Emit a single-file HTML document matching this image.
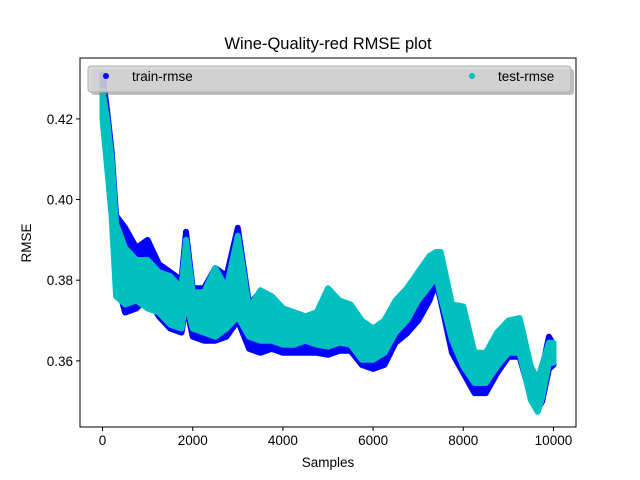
<!DOCTYPE html>
<html><head><meta charset="utf-8"><style>
body{margin:0;background:#fff}
svg{display:block;font-family:"Liberation Sans","DejaVu Sans",sans-serif}
</style></head><body>
<svg id="chart" width="640" height="480">
<rect width="640" height="480" fill="#fff"/>
<text x="328" y="49" text-anchor="middle" font-size="16.5">Wine-Quality-red RMSE plot</text>
<g id="plot"></g>
<g id="axes"></g>
<g>
<rect x="91" y="69" width="483" height="26" rx="3" fill="#7f7f7f" opacity="0.5"/>
<rect x="88" y="66" width="483" height="26" rx="3" fill="#d3d3d3" fill-opacity="0.85" stroke="#b0b0b0" stroke-width="1"/>
<circle cx="106" cy="76" r="3" fill="#0000ff"/>
<text x="132" y="81" font-size="13.5">train-rmse</text>
<circle cx="472" cy="76" r="3" fill="#00bfbf"/>
<text x="498" y="81" font-size="13.5">test-rmse</text>
</g>
</svg>
<script>
const samples = [0,100,200,300,500,750,1000,1250,1500,1750,1850,2000,2250,2500,2750,3000,3250,3500,3750,4000,4250,4500,4750,5000,5250,5500,5750,6000,6250,6500,6750,7000,7250,7400,7500,7750,8000,8250,8500,8750,9000,9250,9500,9650,9750,9900,10000];
const trainHi = [0.431,0.422,0.412,0.396,0.393,0.388,0.390,0.384,0.382,0.380,0.392,0.378,0.378,0.383,0.381,0.393,0.374,0.377,0.376,0.373,0.372,0.371,0.372,0.377,0.374,0.373,0.369,0.367,0.369,0.373,0.376,0.380,0.383,0.384,0.384,0.373,0.372,0.361,0.361,0.366,0.369,0.369,0.358,0.354,0.358,0.366,0.364];
const trainLo = [0.424,0.410,0.398,0.380,0.372,0.373,0.376,0.371,0.368,0.367,0.374,0.366,0.365,0.365,0.366,0.370,0.363,0.362,0.363,0.362,0.362,0.362,0.362,0.3615,0.3625,0.3625,0.359,0.358,0.359,0.3645,0.3668,0.370,0.375,0.3795,0.375,0.362,0.357,0.352,0.352,0.357,0.361,0.361,0.351,0.348,0.350,0.358,0.359];
const testHi = [0.427,0.420,0.410,0.394,0.388,0.385,0.385,0.382,0.381,0.378,0.390,0.377,0.377,0.383,0.378,0.391,0.373,0.3775,0.376,0.373,0.372,0.371,0.372,0.378,0.375,0.374,0.370,0.368,0.370,0.375,0.378,0.382,0.386,0.387,0.387,0.374,0.3735,0.362,0.362,0.367,0.370,0.3706,0.3586,0.3553,0.359,0.3645,0.3645];
const testLo = [0.420,0.408,0.396,0.376,0.374,0.375,0.373,0.372,0.369,0.368,0.375,0.368,0.367,0.366,0.368,0.371,0.366,0.365,0.365,0.364,0.364,0.365,0.364,0.3635,0.3645,0.364,0.3603,0.3603,0.362,0.367,0.370,0.375,0.3786,0.381,0.376,0.3652,0.3586,0.3545,0.3545,0.3586,0.362,0.362,0.3503,0.3474,0.351,0.3595,0.3595];
const xTicks = [0,2000,4000,6000,8000,10000];
const yTicks = [0.36,0.38,0.40,0.42];

const L=80,R=576,T=58,B=427, xMin=-500,xMax=10500,yMin=0.3436,yMax=0.4351;
const sx=v=>L+(v-xMin)/(xMax-xMin)*(R-L);
const sy=v=>B-(v-yMin)/(yMax-yMin)*(B-T);
const NS='http://www.w3.org/2000/svg';
const plot=document.getElementById('plot'), axes=document.getElementById('axes');
function mk(tag,attrs,parent){const e=document.createElementNS(NS,tag);for(const k in attrs)e.setAttribute(k,attrs[k]);parent.appendChild(e);return e;}
function band(hi,lo,color,name){
  let pts=samples.map((s,i)=>sx(s).toFixed(1)+','+sy(hi[i]).toFixed(1));
  for(let i=samples.length-1;i>=0;i--)pts.push(sx(samples[i]).toFixed(1)+','+sy(lo[i]).toFixed(1));
  const p=mk('polygon',{points:pts.join(' '),fill:color,stroke:color,'stroke-width':6,'stroke-linejoin':'round'},plot);
  
  
}
band(trainHi,trainLo,'#0000ff','train-rmse-series');
band(testHi,testLo,'#00bfbf','test-rmse-series');
const frame=mk('rect',{x:L,y:T,width:R-L,height:B-T,fill:'none',stroke:'#000','stroke-width':1},axes);


xTicks.forEach(t=>{
  const x=sx(t);
  mk('line',{x1:x,x2:x,y1:B,y2:B+4,stroke:'#000'},axes);
  const tx=mk('text',{x:x,y:B+18,'text-anchor':'middle','font-size':13.5},axes);
  tx.textContent=t;
  
  
});
yTicks.forEach(t=>{
  const y=sy(t);
  mk('line',{x1:L-4,x2:L,y1:y,y2:y,stroke:'#000'},axes);
  const tx=mk('text',{x:L-7,y:y+5,'text-anchor':'end','font-size':13.5},axes);
  tx.textContent=t.toFixed(2);
  
  
});
const xl=mk('text',{x:328,y:467,'text-anchor':'middle','font-size':13.5},axes);
xl.textContent='Samples';


const yl=mk('text',{x:31,y:243,'text-anchor':'middle','font-size':13.5,transform:'rotate(-90 31 243)'},axes);
yl.textContent='RMSE';


</script>
</body></html>
